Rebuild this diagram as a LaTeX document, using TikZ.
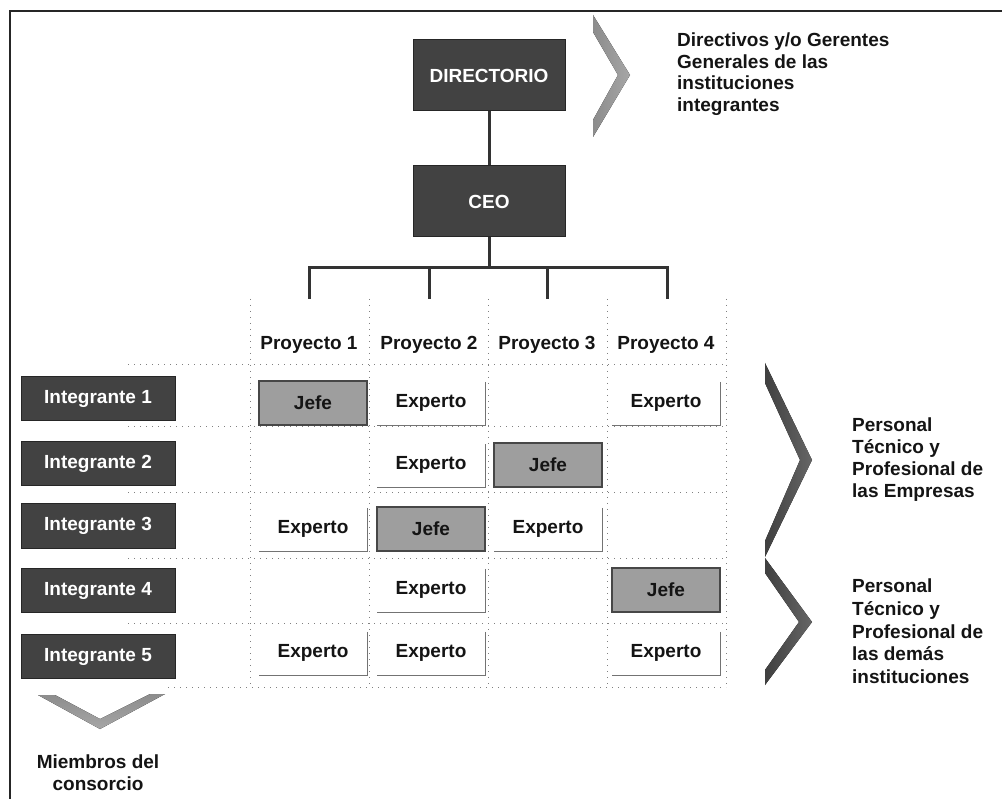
\documentclass[tikz,border=0pt]{standalone}
\usepackage{fontspec}
\setmainfont{Liberation Sans}
\begin{document}
\begin{tikzpicture}[x=1pt,y=-1pt,
  every node/.style={font=\fontsize{19}{22}\selectfont\bfseries, text=black!92},
  darkbox/.style={draw=black!85, line width=1pt, fill=black!74, text=white, inner sep=0pt},
  topbox/.style={darkbox, minimum width=152pt, minimum height=71pt},
  membox/.style={darkbox, minimum width=154pt, minimum height=44pt},
  jefebox/.style={draw=black!72, line width=1.3pt, fill=black!38, minimum width=108pt, minimum height=44pt, inner sep=0pt},
  expbox/.style={fill=white, minimum width=108pt, minimum height=44pt, inner sep=0pt},
  expline/.style={draw=black!55, line width=1.2pt},
  grid/.style={draw=black!50, line width=1pt, dash pattern=on 1pt off 5pt},
  orgline/.style={draw=black!80, line width=3pt},
  label/.style={align=left, anchor=north west, inner sep=0pt},
  head/.style={inner sep=0pt}
]
\useasboundingbox (0,0) rectangle (1002,799);

% frame
\coordinate (fbl) at (10,799);
\coordinate (ftl) at (10,11);
\coordinate (ftr) at (1002,11);
\draw[line width=2.4pt, black!85] (fbl) -- (ftl) -- (ftr);

% top boxes
\node[topbox] (dir) at (489,75.5) {DIRECTORIO};
\node[topbox] (ceo) at (489,201.5) {CEO};
\draw[orgline] (dir.south) -- (ceo.north);

% bar
\coordinate (bar) at (489,268);
\coordinate (b1) at (309,268);
\coordinate (b4) at (667,268);
\coordinate (d1) at (309,299);
\coordinate (u2) at (429,268);
\coordinate (d2) at (429,299);
\coordinate (u3) at (547,268);
\coordinate (d3) at (547,299);
\coordinate (d4) at (667,299);
\draw[orgline] (ceo.south) -- (bar);
\draw[orgline] (d1) -- (b1) -- (b4) -- (d4);
\draw[orgline] (u2) -- (d2);
\draw[orgline] (u3) -- (d3);

% grid
\foreach \x in {250,369,488,607,726} \draw[grid] (\x,299) -- (\x,687);
\foreach \y in {365,427,493,558,623} \draw[grid] (128,\y) -- (726,\y);
\draw[grid] (168,687) -- (726,687);

% headers
\node[head] (p1) at (309,345) {Proyecto 1};
\node[head] (p2) at (429,345) {Proyecto 2};
\node[head] (p3) at (547,345) {Proyecto 3};
\node[head] (p4) at (666,345) {Proyecto 4};

% members
\node[membox] (m1) at (98,399) {Integrante 1};
\node[membox] (m2) at (98,463.5) {Integrante 2};
\node[membox] (m3) at (98,526) {Integrante 3};
\node[membox] (m4) at (98,590.5) {Integrante 4};
\node[membox] (m5) at (98,656.5) {Integrante 5};

% cells
\node[jefebox] (c11) at (313,403) {Jefe};
\node[expbox] (c12) at (431,403) {Experto};
\node[expbox] (c14) at (666,403) {Experto};
\node[expbox] (c22) at (431,465) {Experto};
\node[jefebox] (c23) at (548,465) {Jefe};
\node[expbox] (c31) at (313,529) {Experto};
\node[jefebox] (c32) at (431,529) {Jefe};
\node[expbox] (c33) at (548,529) {Experto};
\node[expbox] (c42) at (431,590) {Experto};
\node[jefebox] (c44) at (666,590) {Jefe};
\node[expbox] (c51) at (313,653) {Experto};
\node[expbox] (c52) at (431,653) {Experto};
\node[expbox] (c54) at (666,653) {Experto};
\foreach \c in {c12,c14,c22,c31,c33,c42,c51,c52,c54}
  \draw[expline] ([yshift=-1pt]\c.north east) -- (\c.south east) -- (\c.south west);

% chevrons
\fill[left color=black!45, right color=black!35] (593,15) -- (630,75) -- (593,137) -- (593,120) -- (618,75) -- (593,32) -- cycle;
\fill[left color=black!75, right color=black!60] (765,363) -- (812,460) -- (765,557) -- (765,541) -- (800,460) -- (765,383) -- cycle;
\fill[left color=black!75, right color=black!60] (765,558) -- (812,622) -- (765,685) -- (765,670) -- (799,622) -- (765,573) -- cycle;
\fill[top color=black!45, bottom color=black!35] (38,695) -- (100,729) -- (165,694) -- (150,694) -- (100,719) -- (55,695) -- cycle;

% labels
\node[label, font=\fontsize{19}{21.5}\selectfont\bfseries] (tdir) at (677,33) {Directivos y/o Gerentes\\Generales de las\\instituciones\\integrantes};
\node[label] (tper1) at (852,418) {Personal\\Técnico y\\Profesional de\\las Empresas};
\node[label, font=\fontsize{19}{22.6}\selectfont\bfseries] (tper2) at (852,579) {Personal\\Técnico y\\Profesional de\\las demás\\instituciones};
\node[align=center, anchor=north, inner sep=0pt] (tmiem) at (98,755) {Miembros del\\consorcio};
\end{tikzpicture}
\end{document}
